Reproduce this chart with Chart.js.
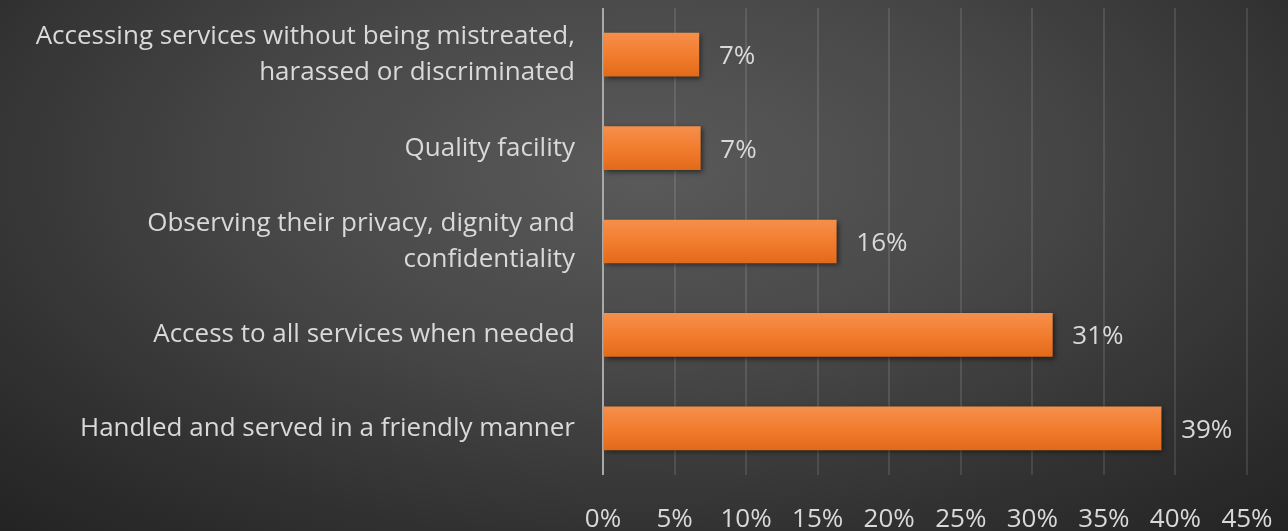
<!DOCTYPE html>
<html>
<head>
<meta charset="utf-8">
<script src="https://cdn.jsdelivr.net/npm/chart.js@4/dist/chart.umd.min.js"></script>
<style>
  html, body { margin: 0; padding: 0; }
  body {
    width: 1288px; height: 531px; overflow: hidden;
    background: radial-gradient(ellipse 75% 95% at 50% 32%, #5a5a5a 0%, #474747 40%, #303030 75%, #222222 100%);
  }
  canvas { display: block; }
</style>
</head>
<body>
<canvas id="chart" width="1288" height="531"></canvas>
<script>
// Categories, top to bottom
const categories = [
  ['Accessing services without being mistreated,', 'harassed or discriminated'],
  'Quality facility',
  ['Observing their privacy, dignity and', 'confidentiality'],
  'Access to all services when needed',
  'Handled and served in a friendly manner',
];
// Share of respondents (%)
const shares = [6.7, 6.8, 16.3, 31.4, 39.0];
const xTicks = [0, 5, 10, 15, 20, 25, 30, 35, 40, 45];

const FONT = '"Open Sans", Lato, sans-serif';
const TEXT = '#d9d9d9';

// Draw value labels to the right of each bar
const valueLabels = {
  id: 'valueLabels',
  afterDatasetsDraw(chart) {
    const ctx = chart.ctx;
    const meta = chart.getDatasetMeta(0);
    ctx.save();
    ctx.font = '26px ' + FONT;
    ctx.fillStyle = TEXT;
    ctx.textAlign = 'left';
    ctx.textBaseline = 'middle';
    meta.data.forEach((bar, i) => {
      ctx.fillText(Math.round(shares[i]) + '%', bar.x + 20, bar.y + 2);
    });
    ctx.restore();
  },
};

// Soft drop shadow under the bars
const barShadow = {
  id: 'barShadow',
  beforeDatasetDraw(chart) {
    const ctx = chart.ctx;
    ctx.save();
    ctx.shadowColor = 'rgba(0,0,0,0.55)';
    ctx.shadowBlur = 5;
    ctx.shadowOffsetX = 2;
    ctx.shadowOffsetY = 2;
  },
  afterDatasetDraw(chart) {
    chart.ctx.restore();
  },
};

function barGradient(context) {
  const chart = context.chart;
  const yScale = chart.scales.y;
  if (!yScale || !chart.chartArea) return '#ee7a2c';
  const y = yScale.getPixelForValue(context.dataIndex);
  const g = chart.ctx.createLinearGradient(0, y - 22, 0, y + 22);
  g.addColorStop(0, '#f58f4c');
  g.addColorStop(0.5, '#f27d2e');
  g.addColorStop(1, '#e2691a');
  return g;
}

new Chart(document.getElementById('chart'), {
  type: 'bar',
  data: {
    labels: categories,
    datasets: [
      {
        data: shares,
        backgroundColor: barGradient,
        borderWidth: 0,
        barThickness: 43,
      },
    ],
  },
  options: {
    indexAxis: 'y',
    responsive: false,
    animation: false,
    layout: { padding: { top: 8, right: 41, left: 0, bottom: 0 } },
    plugins: {
      legend: { display: false },
      tooltip: { enabled: false },
    },
    scales: {
      x: {
        min: 0,
        max: 45,
        afterBuildTicks: scale => {
          scale.ticks = xTicks.map(v => ({ value: v }));
        },
        afterFit: scale => {
          scale.height = 56;
          scale.paddingLeft = 0;
          scale.paddingRight = 0;
        },
        border: { display: false },
        grid: {
          drawTicks: false,
          color: c => (c.tick && c.tick.value === 0 ? '#a9a9a9' : 'rgba(255,255,255,0.11)'),
          lineWidth: 2,
        },
        ticks: {
          padding: 29,
          color: TEXT,
          font: { family: FONT, size: 26 },
          maxRotation: 0,
          callback: v => v + '%',
        },
      },
      y: {
        afterFit: scale => {
          scale.width = 603;
          scale.paddingTop = 0;
          scale.paddingBottom = 0;
        },
        border: { display: false },
        grid: { display: false, drawTicks: false },
        ticks: {
          padding: 28,
          color: TEXT,
          font: { family: FONT, size: 26, lineHeight: 1.4 },
        },
      },
    },
  },
  plugins: [barShadow, valueLabels],
});
</script>
</body>
</html>
